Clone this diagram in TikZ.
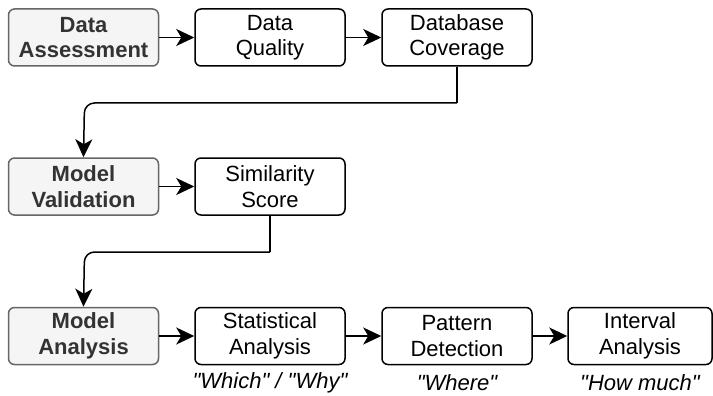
\documentclass[tikz,border=0pt]{standalone}
\usepackage{fontspec}
\setmainfont{Liberation Sans}[Ligatures=TeXOff]
\usetikzlibrary{arrows.meta}
\definecolor{grayfill}{HTML}{F5F5F5}
\definecolor{grayline}{HTML}{666666}
\definecolor{graytext}{HTML}{333333}
\begin{document}
\begin{tikzpicture}[x=1pt,y=-1pt,
  box/.style={draw=black, line width=1.5pt, rounded corners=6pt, fill=white,
    minimum width=150pt, minimum height=57pt, inner sep=0pt, align=center,
    font=\fontsize{22}{25.5}\selectfont},
  phase/.style={box, draw=grayline, fill=grayfill, text=graytext,
    font=\fontsize{22}{25.5}\selectfont\bfseries},
  note/.style={font=\fontsize{22}{26}\selectfont\itshape, inner sep=0pt},
  tip/.tip={Stealth[length=18pt, width=17pt, inset=5pt]},
  arr/.style={line width=1.5pt, -tip},
  link/.style={line width=1.5pt}]
\useasboundingbox (0,0) rectangle (713,396);
% row 1
\node[phase] (da) at (83.5,37.5) {Data\\Assessment};
\node[box] (dq) at (270,37.5) {Data\\Quality};
\node[box] (dc) at (457,37.5) {Database\\Coverage};
% row 2
\node[phase] (mv) at (83.5,186.5) {Model\\Validation};
\node[box] (ss) at (270,186.5) {Similarity\\Score};
% row 3
\node[phase] (ma) at (83.5,336) {Model\\Analysis};
\node[box] (sa) at (270,336) {Statistical\\Analysis};
\node[box] (pd) at (457,336) {Pattern\\Detection};
\node[box, minimum width=144pt] (ia) at (640,336) {Interval\\Analysis};
% notes
\node[note] (n1) at (270,383) {"Which" / "Why"};
\node[note] (n2) at (457,383) {"Where"};
\node[note] (n3) at (640,383) {"How much"};
% coordinates
\coordinate (c1) at (457,103);
\coordinate (c2) at (84.5,103);
\coordinate (c3) at (270,252);
\coordinate (c4) at (84.5,252);
% connectors
\draw[arr] (da) -- (dq);
\draw[arr] (dq) -- (dc);
\draw[arr] (mv) -- (ss);
\draw[arr] (ma) -- (sa);
\draw[arr] (sa) -- (pd);
\draw[arr] (pd) -- (ia);
\draw[link] (dc.south) -- (c1);
\draw[arr, rounded corners=10pt] (c1) -- (c2) -- (mv.north);
\draw[link] (ss.south) -- (c3);
\draw[arr, rounded corners=10pt] (c3) -- (c4) -- (ma.north);
\end{tikzpicture}
\end{document}
